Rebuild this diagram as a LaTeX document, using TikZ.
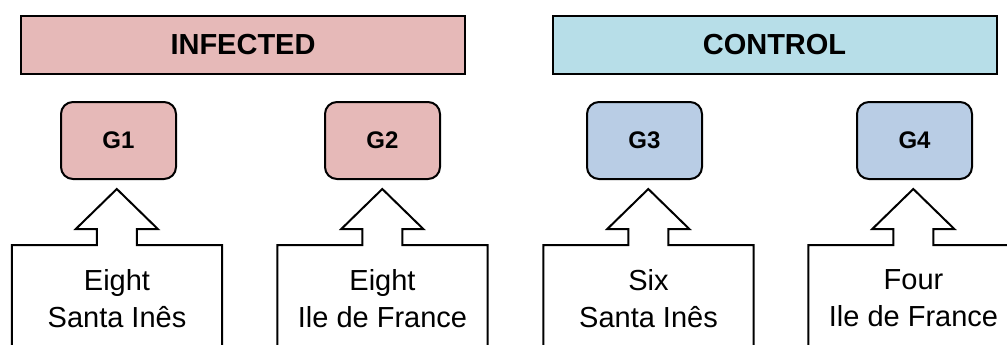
\documentclass[tikz,border=0pt]{standalone}
\usepackage{fontspec}
\setmainfont{Liberation Sans}
\usepackage{tikz}
\usepackage{xcolor}
\usetikzlibrary{positioning}

\definecolor{infectred}{HTML}{E6B9B8}
\definecolor{controlaqua}{HTML}{B7DEE8}
\definecolor{groupblue}{HTML}{B9CDE5}

\tikzset{
  header/.style={draw, line width=2pt, minimum width=444pt, minimum height=58pt,
    font=\fontsize{29}{32}\selectfont\bfseries},
  grp/.style={draw, line width=2pt, rounded corners=12pt, minimum width=115pt,
    minimum height=77pt, font=\fontsize{24}{28}\selectfont\bfseries},
  callbox/.style={minimum width=210pt, minimum height=106pt, inner sep=0pt,
    align=center, font=\fontsize{29}{37}\selectfont},
  callout/.style={line width=2pt, line join=miter}
}

\begin{document}
\begin{tikzpicture}[x=1pt,y=-1pt]
\useasboundingbox (0,0) rectangle (1007,345);
\clip (0,0) rectangle (1007,345);
%% headers
\node[header, fill=infectred] (infected) at (243,45) {INFECTED};
\node[header, fill=controlaqua] (control) at (774.5,45) {CONTROL};
%% groups
\node[grp, fill=infectred] (g1) at (118.5,140.5) {G1};
\node[grp, fill=infectred] (g2) at (382.5,140.5) {G2};
\node[grp, fill=groupblue] (g3) at (644.5,140.5) {G3};
\node[grp, fill=groupblue] (g4) at (914.5,140.5) {G4};
%% animals
\node[callbox, below=65pt of g1, xshift=-1.5pt] (s1) {Eight\\Santa Inês};
\node[callbox, below=65pt of g2] (s2) {Eight\\Ile de France};
\node[callbox, below=65pt of g3, xshift=4pt] (s3) {Six\\Santa Inês};
\node[callbox, below=65pt of g4, xshift=-1pt] (s4) {Four\\Ile de France};
%% callout outlines
\draw[callout] (s1.south west) -- (s1.north west) -- ++(85,0) -- ++(0,-16) -- ++(-21,0)
  -- ++(41,-40) -- ++(41,40) -- ++(-21,0) -- ++(0,16) -- (s1.north east) -- (s1.south east);
\draw[callout] (s2.south west) -- (s2.north west) -- ++(85,0) -- ++(0,-16) -- ++(-21,0)
  -- ++(41,-40) -- ++(41,40) -- ++(-21,0) -- ++(0,16) -- (s2.north east) -- (s2.south east);
\draw[callout] (s3.south west) -- (s3.north west) -- ++(85,0) -- ++(0,-16) -- ++(-21,0)
  -- ++(41,-40) -- ++(41,40) -- ++(-21,0) -- ++(0,16) -- (s3.north east) -- (s3.south east);
\draw[callout] (s4.south west) -- (s4.north west) -- ++(85,0) -- ++(0,-16) -- ++(-21,0)
  -- ++(41,-40) -- ++(41,40) -- ++(-21,0) -- ++(0,16) -- (s4.north east) -- (s4.south east);
\end{tikzpicture}
\end{document}
